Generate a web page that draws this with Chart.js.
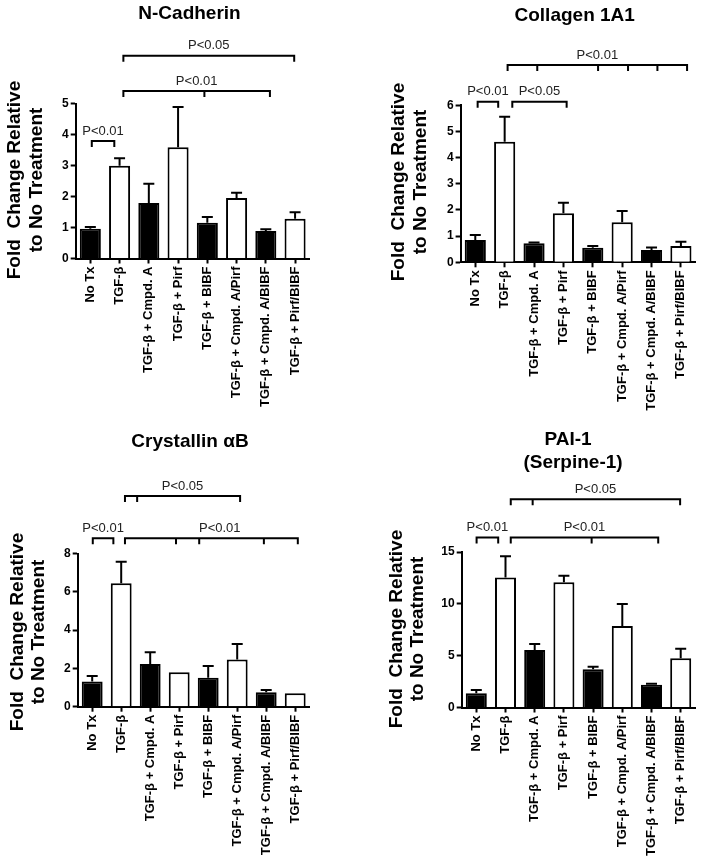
<!DOCTYPE html>
<html><head><meta charset="utf-8">
<script src="https://cdn.jsdelivr.net/npm/chart.js@4.4.0/dist/chart.umd.min.js"></script>
<style>
html,body{margin:0;padding:0;background:#fff;}
body{width:703px;height:863px;position:relative;overflow:hidden;}
canvas{position:absolute;}
</style></head><body>
<canvas id="c1" width="351" height="420" style="left:0;top:0"></canvas>
<canvas id="c2" width="352" height="420" style="left:351px;top:0"></canvas>
<canvas id="c3" width="351" height="443" style="left:0;top:420px"></canvas>
<canvas id="c4" width="352" height="443" style="left:351px;top:420px"></canvas>
<script>
// ---- data ----
const categories = ['No Tx', 'TGF-β', 'TGF-β + Cmpd. A', 'TGF-β + Pirf', 'TGF-β + BIBF',
  'TGF-β + Cmpd. A/Pirf', 'TGF-β + Cmpd. A/BIBF', 'TGF-β + Pirf/BIBF'];
const barFills = ['#000', '#fff', '#000', '#fff', '#000', '#fff', '#000', '#fff'];
const yTitleLines = ['Fold  Change Relative', 'to No Treatment'];

const nCadherinMean = [0.96, 2.99, 1.79, 3.59, 1.15, 1.95, 0.89, 1.28];
const nCadherinSem  = [0.06, 0.24, 0.62, 1.30, 0.19, 0.17, 0.05, 0.21];
const nCadherinTicks = [0, 1, 2, 3, 4, 5];

const collagenMean = [0.85, 4.61, 0.73, 1.87, 0.56, 1.53, 0.47, 0.62];
const collagenSem  = [0.19, 0.95, 0.03, 0.41, 0.06, 0.43, 0.10, 0.17];
const collagenTicks = [0, 1, 2, 3, 4, 5, 6];

const crystallinMean = [1.31, 6.44, 2.23, 1.80, 1.51, 2.47, 0.75, 0.70];
const crystallinSem  = [0.29, 1.13, 0.61, 0.00, 0.62, 0.80, 0.12, 0.00];
const crystallinTicks = [0, 2, 4, 6, 8];

const pai1Mean = [1.37, 12.55, 5.54, 12.07, 3.68, 7.86, 2.20, 4.74];
const pai1Sem  = [0.32, 2.05, 0.58, 0.63, 0.26, 2.12, 0.10, 0.93];
const pai1Ticks = [0, 5, 10, 15];

// significance brackets: positions in category units, level in value units
const nCadherinBrackets = [
  {label: 'P<0.01', level: 3.79, at: [0.05, 0.82]},
  {label: 'P<0.01', level: 5.40, at: [1.13, 3.90, 6.14]},
  {label: 'P<0.05', level: 6.54, at: [1.13, 6.97]}
];
const collagenBrackets = [
  {label: 'P<0.01', level: 6.14, at: [0.08, 0.78]},
  {label: 'P<0.05', level: 6.14, at: [1.26, 3.11]},
  {label: 'P<0.01', level: 7.54, at: [1.10, 2.11, 4.18, 5.20, 6.20, 7.21]}
];
const crystallinBrackets = [
  {label: 'P<0.01', level: 8.79, at: [0.02, 0.73]},
  {label: 'P<0.01', level: 8.79, at: [1.13, 2.89, 3.69, 5.92, 7.09], textAt: 4.4},
  {label: 'P<0.05', level: 11.0, at: [1.13, 1.55, 5.10]}
];
const pai1Brackets = [
  {label: 'P<0.01', level: 16.41, at: [0.01, 0.75]},
  {label: 'P<0.01', level: 16.41, at: [1.18, 3.95, 6.23]},
  {label: 'P<0.05', level: 20.1, at: [1.18, 1.93, 6.98]}
];

const FONT = '"Liberation Sans", Arial, Helvetica, sans-serif';

function makePanel(id, cfg) {
  const annot = {
    id: 'annot',
    afterDraw(chart) {
      const ctx = chart.ctx;
      const xs = chart.scales.x, ys = chart.scales.y;
      ctx.save();
      // error bars
      const meta = chart.getDatasetMeta(0);
      ctx.strokeStyle = '#000';
      ctx.lineWidth = 2;
      meta.data.forEach((bar, i) => {
        const s = cfg.sem[i];
        if (!s) return;
        const yE = ys.getPixelForValue(cfg.mean[i] + s);
        ctx.beginPath();
        ctx.moveTo(bar.x, bar.y);
        ctx.lineTo(bar.x, yE);
        ctx.moveTo(bar.x - 5.5, yE);
        ctx.lineTo(bar.x + 5.5, yE);
        ctx.stroke();
      });
      // brackets
      const x0 = xs.getPixelForValue(0);
      const step = xs.getPixelForValue(1) - x0;
      const px = f => x0 + f * step;
      const leg = 6;
      cfg.brackets.forEach(b => {
        const y = ys.getPixelForValue(b.level);
        const a = b.at;
        ctx.beginPath();
        ctx.moveTo(px(a[0]), y + leg);
        ctx.lineTo(px(a[0]), y);
        ctx.lineTo(px(a[a.length - 1]), y);
        ctx.lineTo(px(a[a.length - 1]), y + leg);
        for (let k = 1; k < a.length - 1; k++) {
          ctx.moveTo(px(a[k]), y);
          ctx.lineTo(px(a[k]), y + leg);
        }
        ctx.stroke();
        ctx.fillStyle = '#222';
        ctx.font = '13px ' + FONT;
        ctx.textAlign = 'center';
        ctx.textBaseline = 'middle';
        const tx = b.textAt !== undefined ? px(b.textAt) : (px(a[0]) + px(a[a.length - 1])) / 2;
        ctx.fillText(b.label, tx, y - 10);
      });
      // titles
      ctx.fillStyle = '#000';
      ctx.font = 'bold 19px ' + FONT;
      ctx.textAlign = 'center';
      ctx.textBaseline = 'middle';
      cfg.title.forEach(t => ctx.fillText(t.text, t.x, t.y));
      // y title
      yTitleLines.forEach((line, k) => {
        ctx.save();
        ctx.translate(cfg.yTitle.x[k], cfg.yTitle.y);
        ctx.rotate(-Math.PI / 2);
        ctx.fillText(line, 0, 0);
        ctx.restore();
      });
      ctx.restore();
    }
  };

  new Chart(document.getElementById(id), {
    type: 'bar',
    data: {
      labels: categories,
      datasets: [{
        data: cfg.mean,
        backgroundColor: barFills,
        borderColor: '#000',
        borderWidth: 2,
        barPercentage: 0.72,
        categoryPercentage: 1
      }]
    },
    options: {
      responsive: false,
      animation: false,
      events: [],
      layout: {padding: cfg.padding},
      plugins: {legend: {display: false}, tooltip: {enabled: false}, title: {display: false}},
      scales: {
        x: {
          type: 'category',
          offset: true,
          grid: {display: true, drawOnChartArea: false, offset: false, drawTicks: true,
                 tickLength: 5, tickWidth: 2, tickColor: '#000', color: '#000'},
          border: {display: true, color: '#000', width: 2},
          ticks: {color: '#000', font: {family: FONT, size: 13, weight: 'bold'},
                  minRotation: 90, maxRotation: 90, autoSkip: false, padding: 3},
          afterFit(scale) { scale.height = cfg.xHeight; }
        },
        y: {
          min: cfg.ticks[0],
          max: cfg.ticks[cfg.ticks.length - 1],
          grid: {display: true, drawOnChartArea: false, drawTicks: true,
                 tickLength: 5, tickWidth: 2, tickColor: '#000', color: '#000'},
          border: {display: true, color: '#000', width: 2},
          ticks: {color: '#000', font: {family: FONT, size: 12, weight: 'bold'}, padding: 2},
          afterBuildTicks(scale) { scale.ticks = cfg.ticks.map(v => ({value: v})); },
          afterFit(scale) { scale.width = cfg.yWidth; }
        }
      }
    },
    plugins: [annot]
  });
}

makePanel('c1', {
  mean: nCadherinMean, sem: nCadherinSem, ticks: nCadherinTicks, brackets: nCadherinBrackets,
  padding: {left: 0, right: 41.3, top: 103.5, bottom: 0}, yWidth: 75.7, xHeight: 161.5,
  title: [{text: 'N-Cadherin', x: 189.5, y: 14}],
  yTitle: {x: [14.5, 36.7], y: 180}
});
makePanel('c2', {
  mean: collagenMean, sem: collagenSem, ticks: collagenTicks, brackets: collagenBrackets,
  padding: {left: 0, right: 7.4, top: 105.3, bottom: 0}, yWidth: 109.6, xHeight: 157.7,
  title: [{text: 'Collagen 1A1', x: 223.7, y: 16}],
  yTitle: {x: [48, 70], y: 182}
});
makePanel('c3', {
  mean: crystallinMean, sem: crystallinSem, ticks: crystallinTicks, brackets: crystallinBrackets,
  padding: {left: 0, right: 41.3, top: 133.5, bottom: 0}, yWidth: 77.7, xHeight: 156.3,
  title: [{text: 'Crystallin αB', x: 190, y: 21.7}],
  yTitle: {x: [17.5, 39], y: 212}
});
makePanel('c4', {
  mean: pai1Mean, sem: pai1Sem, ticks: pai1Ticks, brackets: pai1Brackets,
  padding: {left: 0, right: 7.7, top: 132, bottom: 0}, yWidth: 110.7, xHeight: 155.5,
  title: [{text: 'PAI-1', x: 217, y: 20}, {text: '(Serpine-1)', x: 222, y: 43}],
  yTitle: {x: [45.7, 67], y: 209}
});
</script>
</body></html>
